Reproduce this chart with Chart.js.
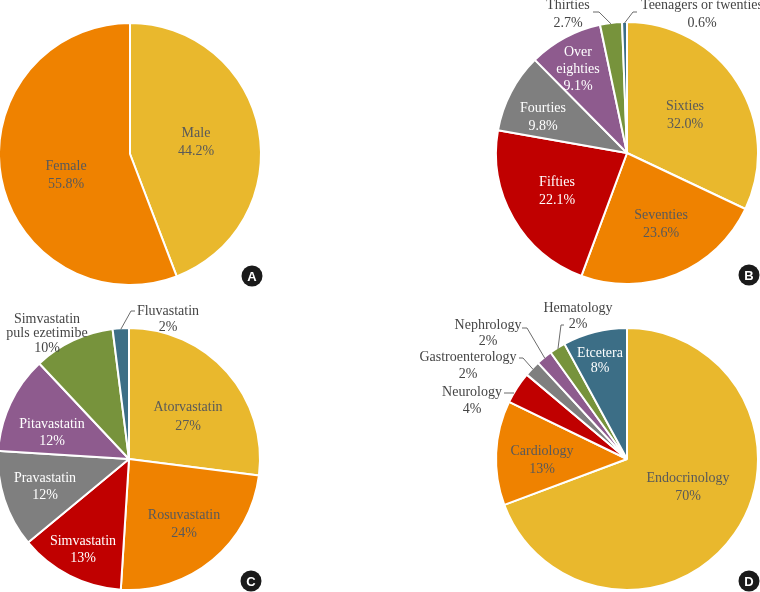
<!DOCTYPE html>
<html><head><meta charset="utf-8">
<script src="https://cdn.jsdelivr.net/npm/chart.js@4/dist/chart.umd.min.js"></script>
<style>
html,body{margin:0;padding:0;background:#fff;}
#wrap{position:relative;width:760px;height:592px;overflow:hidden;background:#fff;}
canvas{position:absolute;left:0;top:0;}
</style></head><body>
<div id="wrap">
<canvas id="cA" width="760" height="592"></canvas>
<canvas id="cB" width="760" height="592"></canvas>
<canvas id="cC" width="760" height="592"></canvas>
<canvas id="cD" width="760" height="592"></canvas>
</div>
<script>
// ---- data ----
const sexCategories = ['Male', 'Female'];
const sexValues = [44.2, 55.8];

const ageCategories = ['Sixties', 'Seventies', 'Fifties', 'Fourties', 'Over eighties', 'Thirties', 'Teenagers or twenties'];
const ageValues = [32.0, 23.6, 22.1, 9.8, 9.1, 2.7, 0.6];

const statinCategories = ['Atorvastatin', 'Rosuvastatin', 'Simvastatin', 'Pravastatin', 'Pitavastatin', 'Simvastatin puls ezetimibe', 'Fluvastatin'];
const statinValues = [27, 24, 13, 12, 12, 10, 2];

const deptCategories = ['Endocrinology', 'Cardiology', 'Neurology', 'Gastroenterology', 'Nephrology', 'Hematology', 'Etcetera'];
const deptValues = [70, 13, 4, 2, 2, 2, 8];

const panelLetters = ['A', 'B', 'C', 'D'];

// ---- styles ----
const YEL = '#E9B82D', ORG = '#EF8200', RED = '#C00000', GRY = '#7F7F7F', PUR = '#8E5B8E', GRN = '#77933C', BLU = '#3C6E86';
const palette7 = [YEL, ORG, RED, GRY, PUR, GRN, BLU];
const DARK = '#595959', WHITE = '#FFFFFF', OUT = '#454545';

const labelPlugin = {
  id: 'pieLabels',
  afterDatasetsDraw(chart, args, opts) {
    const ctx = chart.ctx;
    const meta = chart.getDatasetMeta(0);
    const ds = chart.data.datasets[0];
    ctx.save();
    ctx.font = '14px "Liberation Serif", "Times New Roman", serif';
    ctx.textAlign = 'center';
    ctx.textBaseline = 'middle';
    meta.data.forEach((arc, i) => {
      const spec = opts.items[i];
      if (!spec) return;
      const cx = arc.x, cy = arc.y;
      const name = chart.data.labels[i];
      const val = ds.data[i].toFixed(opts.decimals) + '%';
      let lines;
      if (spec.wrap) {
        const k = name.indexOf(' ');
        lines = [name.slice(0, k), name.slice(k + 1), val];
      } else {
        lines = [name, val];
      }
      const lh = spec.lh || (spec.outside ? 16.5 : 18);
      const x = cx + spec.dx, y0 = cy + spec.dy - lh * (lines.length - 1) / 2;
      ctx.fillStyle = spec.color;
      lines.forEach((t, j) => ctx.fillText(t, x, y0 + j * lh));
      if (spec.leader) {
        let ex, ey;
        if (spec.end) {
          ex = cx + spec.end[0]; ey = cy + spec.end[1];
        } else {
          const mid = (arc.startAngle + arc.endAngle) / 2;
          const r = arc.outerRadius - 1;
          ex = cx + Math.cos(mid) * r; ey = cy + Math.sin(mid) * r;
        }
        ctx.beginPath();
        ctx.strokeStyle = '#6b6b6b';
        ctx.lineWidth = 1;
        ctx.moveTo(cx + spec.leader[0], cy + spec.leader[1]);
        ctx.lineTo(cx + spec.leader[2], cy + spec.leader[3]);
        ctx.lineTo(ex, ey);
        ctx.stroke();
      }
    });
    // panel badge
    const a0 = meta.data[0];
    const bx = a0.x + opts.badge[0], by = a0.y + opts.badge[1];
    ctx.beginPath();
    ctx.fillStyle = '#1a1a1a';
    ctx.arc(bx, by, 10.5, 0, Math.PI * 2);
    ctx.fill();
    ctx.fillStyle = '#fff';
    ctx.font = 'bold 13px "Liberation Sans", Arial, sans-serif';
    ctx.fillText(opts.letter, bx, by + 1);
    ctx.restore();
  }
};

function makePie(id, cx, cy, labels, values, colors, decimals, items, letter) {
  const R = 131;
  return new Chart(document.getElementById(id), {
    type: 'pie',
    data: {
      labels: labels,
      datasets: [{
        data: values,
        backgroundColor: colors,
        borderColor: '#FFFFFF',
        borderWidth: 2,
        hoverOffset: 0,
        radius: R,
        clip: false
      }]
    },
    options: {
      responsive: false,
      animation: false,
      events: [],
      radius: R,
      layout: { padding: { left: cx - 100, right: 760 - cx - 100, top: cy - 100, bottom: 592 - cy - 100 } },
      plugins: {
        legend: { display: false },
        tooltip: { enabled: false },
        pieLabels: { decimals: decimals, items: items, letter: letter, badge: [122, 122] }
      }
    },
    plugins: [labelPlugin]
  });
}

makePie('cA', 130, 154, sexCategories, sexValues, [YEL, ORG], 1, [
  { dx: 66, dy: -12, color: DARK },
  { dx: -64, dy: 21, color: DARK }
], panelLetters[0]);

makePie('cB', 627, 153, ageCategories, ageValues, palette7, 1, [
  { dx: 58, dy: -37.5, color: DARK },
  { dx: 34, dy: 71, color: DARK },
  { dx: -70, dy: 38.5, color: WHITE },
  { dx: -84, dy: -36, color: WHITE },
  { dx: -49, dy: -83.5, color: WHITE, wrap: true, lh: 17 },
  { dx: -59, dy: -139, color: OUT, outside: true, lh: 18, leader: [-34, -141, -28, -141] },
  { dx: 75, dy: -139, color: OUT, outside: true, lh: 18, leader: [10, -141, 6, -141] }
], panelLetters[1]);

makePie('cC', 129, 459, statinCategories, statinValues, palette7, 0, [
  { dx: 59, dy: -42.5, color: DARK, lh: 19 },
  { dx: 55, dy: 65, color: DARK },
  { dx: -46, dy: 90.5, color: WHITE, lh: 17 },
  { dx: -84, dy: 27.5, color: WHITE, lh: 17 },
  { dx: -77, dy: -26.5, color: WHITE, lh: 17 },
  { dx: -82, dy: -125.5, color: OUT, outside: true, wrap: true, lh: 14.5 },
  { dx: 39, dy: -140, color: OUT, outside: true, lh: 16, leader: [6, -148, 2, -148] }
], panelLetters[2]);

makePie('cD', 627, 459, deptCategories, deptValues, palette7, 0, [
  { dx: 61, dy: 28, color: DARK },
  { dx: -85, dy: 1, color: DARK },
  { dx: -155, dy: -58, color: OUT, outside: true, leader: [-123, -66, -118, -66], end: [-113, -66] },
  { dx: -159, dy: -93, color: OUT, outside: true, leader: [-108, -101, -104, -101] },
  { dx: -139, dy: -125.5, color: OUT, outside: true, leader: [-105, -131, -100, -131] },
  { dx: -49, dy: -142.5, color: OUT, outside: true, leader: [-63, -134, -66, -134] },
  { dx: -27, dy: -98.5, color: WHITE, lh: 15 }
], panelLetters[3]);
</script>
</body></html>
